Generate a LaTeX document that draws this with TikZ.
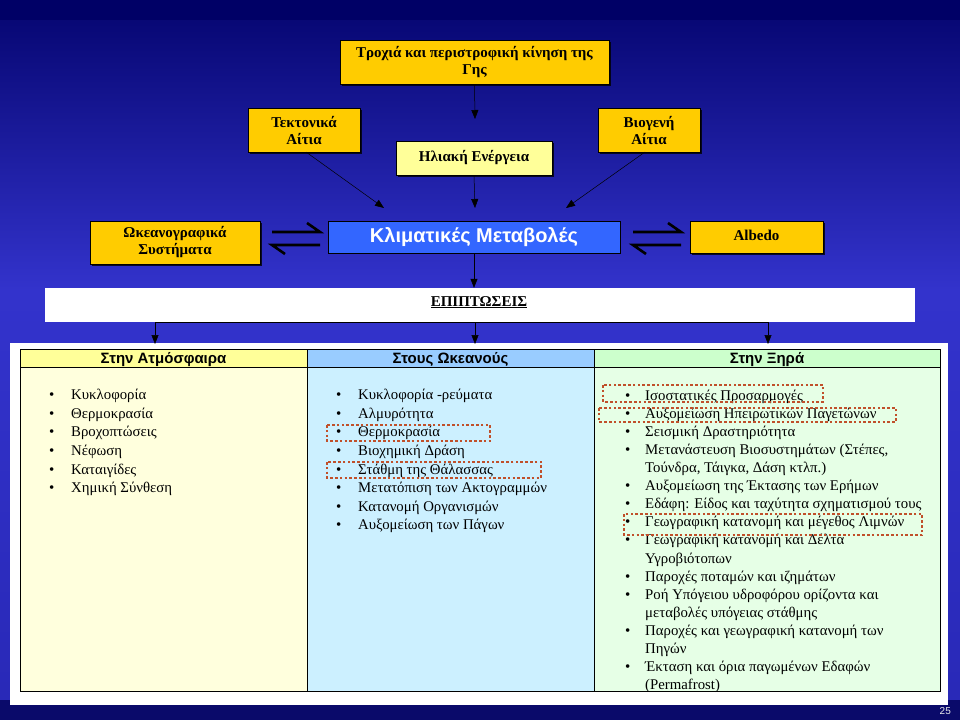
\documentclass[tikz,border=0pt]{standalone}
\usepackage{fontspec}
\setmainfont{Liberation Serif}
\newfontfamily\sansf{Liberation Sans}
\usetikzlibrary{arrows.meta,shadows}
\definecolor{gold}{HTML}{FFCC00}
\definecolor{paleyel}{HTML}{FFFF99}
\definecolor{climblue}{HTML}{3366FF}
\definecolor{hdrA}{HTML}{FFFF99}
\definecolor{hdrB}{HTML}{99CCFF}
\definecolor{hdrC}{HTML}{CCFFCC}
\definecolor{bodyA}{HTML}{FFFFDD}
\definecolor{bodyB}{HTML}{CCF0FF}
\definecolor{bodyC}{HTML}{E6FFE6}
\definecolor{redbox}{HTML}{C0502A}
\definecolor{bgtop}{HTML}{000066}
\definecolor{bgmid}{HTML}{3333CC}
\definecolor{bgbot}{HTML}{0A0A6A}
\begin{document}
\begin{tikzpicture}[x=1pt,y=-1pt,
  goldbox/.style={draw=black,fill=gold,line width=0.8pt,font=\bfseries\fontsize{15}{17}\selectfont,align=center,inner sep=0pt,
     drop shadow={shadow xshift=2pt,shadow yshift=-2pt,fill=black,opacity=0.8}},
  arr/.style={-{Triangle[length=9pt,width=7pt]},line width=0.5pt,black},
  plainline/.style={line width=0.7pt,black},
  harp/.style={line width=2.6pt,black},
  bul/.style={anchor=base west,inner sep=0pt,font=\fontsize{15}{16}\selectfont},
  itm/.style={anchor=base west,inner sep=0pt,font=\fontsize{14.8}{16}\selectfont},
  hdr/.style={anchor=base,inner sep=0pt,font=\sansf\bfseries\fontsize{15}{16}\selectfont},
  redmark/.style={draw=redbox,line width=2.6pt,dash pattern=on 2.6pt off 2.2pt},
]
\useasboundingbox (0,0) rectangle (960,720);
% background
\fill[bgtop] (0,0) rectangle (960,20);
\shade[top color=bgtop!85!bgmid,bottom color=bgmid] (0,20) rectangle (960,290);
\shade[top color=bgmid,bottom color=bgmid!80!bgtop] (0,290) rectangle (960,700);
\fill[bgbot] (0,700) rectangle (960,720);

% top boxes
\node[goldbox,minimum width=269pt,minimum height=44pt] (orbit) at (474.5,62) {Τροχιά και περιστροφική κίνηση της\\Γης};
\node[goldbox,minimum width=112pt,minimum height=44pt] (tect) at (304,130) {Τεκτονικά\\Αίτια};
\node[goldbox,minimum width=102pt,minimum height=44pt] (bio) at (649,130) {Βιογενή\\Αίτια};
\node[goldbox,fill=paleyel,minimum width=156pt,minimum height=34pt] (sun) at (474,158) {Ηλιακή Ενέργεια};
\node[draw=black,fill=climblue,line width=0.8pt,minimum width=292pt,minimum height=32pt,inner sep=0pt,
  font=\sansf\bfseries\fontsize{20}{22}\selectfont,text=white] (clim) at (474,237) {Κλιματικές Μεταβολές};
\node[goldbox,minimum width=170pt,minimum height=43pt] (ocean) at (175,242.5) {Ωκεανογραφικά\\Συστήματα};
\node[goldbox,minimum width=133pt,minimum height=32pt] (albedo) at (756.5,237) {};
\node[anchor=base,inner sep=0pt,font=\bfseries\fontsize{15}{17}\selectfont] (albtxt) at (756.5,240) {Albedo};

% arrows into climate
\coordinate (orbitend) at (475,119);
\coordinate (tectend) at (384,208);
\coordinate (bioend) at (566,208);
\coordinate (sunend) at (475,208);
\draw[arr] (orbit.south) -- (orbitend);
\draw[arr] (306,152) -- (tectend);
\draw[arr] (645,152) -- (bioend);
\draw[arr] (sun.south) -- (sunend);

% harpoons
\coordinate (hl1) at (272,232); \coordinate (hl2) at (320,232); \coordinate (hl3) at (307,223);
\coordinate (hl4) at (320,245); \coordinate (hl5) at (272,245); \coordinate (hl6) at (285,254);
\draw[harp] (hl1) -- (hl2) -- (hl3);
\draw[harp] (hl4) -- (hl5) -- (hl6);
\coordinate (hr1) at (633,232); \coordinate (hr2) at (681,232); \coordinate (hr3) at (668,223);
\coordinate (hr4) at (681,245); \coordinate (hr5) at (633,245); \coordinate (hr6) at (646,254);
\draw[harp] (hr1) -- (hr2) -- (hr3);
\draw[harp] (hr4) -- (hr5) -- (hr6);

% banner
\node[fill=white,minimum width=870pt,minimum height=34pt,inner sep=0pt] (banner) at (480,305) {};
\node[anchor=base,inner sep=0pt,font=\bfseries\fontsize{15}{17}\selectfont] (bantxt) at (479,306) {\underline{ΕΠΙΠΤΩΣΕΙΣ}};
\draw[arr] (clim.south) -- (banner.north -| clim.south);

% table frame
\node[fill=white,minimum width=938pt,minimum height=362pt,inner sep=0pt] (frame) at (479,524) {};
\coordinate (bl) at (155,322);
\coordinate (bc) at (475,322);
\coordinate (br) at (768,322);
\draw[plainline] (bl) -- (br);
\draw[arr] (bl) -- (155,344);
\draw[arr] (bc) -- (475,344);
\draw[arr] (br) -- (768,344);

% table cells
\fill[hdrA] (20,349) rectangle (307,367);
\fill[hdrB] (307,349) rectangle (594,367);
\fill[hdrC] (594,349) rectangle (940,367);
\fill[bodyA] (20,367) rectangle (307,691);
\fill[bodyB] (307,367) rectangle (594,691);
\fill[bodyC] (594,367) rectangle (940,691);
\draw[line width=0.8pt] (20,349) rectangle (940,691);
\draw[line width=0.6pt] (20,367) -- (940,367);
\draw[line width=0.6pt] (307,349) -- (307,691);
\draw[line width=0.6pt] (594,349) -- (594,691);

\node[hdr] (hA) at (163.5,363) {Στην Ατμόσφαιρα};
\node[hdr] (hB) at (450.5,363) {Στους Ωκεανούς};
\node[hdr] (hC) at (767,363) {Στην Ξηρά};

% column A
\foreach \t [count=\i] in {Κυκλοφορία,Θερμοκρασία,Βροχοπτώσεις,Νέφωση,Καταιγίδες,Χημική Σύνθεση}{
  \node[bul] (ba\i) at (49,{381+18.6*\i}) {•};
  \node[itm] (ia\i) at (71,{381+18.6*\i}) {\t};
}
% column B
\foreach \t [count=\i] in {Κυκλοφορία -ρεύματα,Αλμυρότητα,Θερμοκρασία,Βιοχημική Δράση,Στάθμη της Θάλασσας,Μετατόπιση των Ακτογραμμών,Κατανομή Οργανισμών,Αυξομείωση των Πάγων}{
  \node[bul] (bb\i) at (336,{381+18.6*\i}) {•};
  \node[itm] (ib\i) at (358,{381+18.6*\i}) {\t};
}
% column C
\foreach \t/\b [count=\i] in {Ισοστατικές Προσαρμογές/1,Αυξομείωση Ηπειρωτικών Παγετώνων/1,Σεισμική Δραστηριότητα/1,Μετανάστευση Βιοσυστημάτων (Στέπες{,}/1,Τούνδρα{,} Τάιγκα{,} Δάση κτλπ.)/0,Αυξομείωση της Έκτασης των Ερήμων/1,Εδάφη: Είδος και ταχύτητα σχηματισμού τους/1,Γεωγραφική κατανομή και μέγεθος Λιμνών/1,Γεωγραφική κατανομή και Δέλτα/1,Υγροβιότοπων/0,Παροχές ποταμών και ιζημάτων/1,Ροή Υπόγειου υδροφόρου ορίζοντα και/1,μεταβολές υπόγειας στάθμης/0,Παροχές και γεωγραφική κατανομή των/1,Πηγών/0,Έκταση και όρια παγωμένων Εδαφών/1,(Permafrost)/0}{
  \ifnum\b=1 \node[bul] (bc\i) at (625,{382+18.1*\i}) {•};\fi
  \node[itm] (ic\i) at (645,{382+18.1*\i}) {\t};
}

% red dotted marks
\draw[redmark] (327,425) rectangle (490,441);
\draw[redmark] (327,462) rectangle (541,478);
\draw[redmark] (603,385) rectangle (823,402);
\draw[redmark] (599,408) rectangle (896,422);
\draw[redmark] (624,514) rectangle (922,535);

\node[anchor=base east,inner sep=0pt,text=white!85!gray,font=\sansf\fontsize{10}{12}\selectfont] (pg) at (951,714) {25};
\end{tikzpicture}
\end{document}
